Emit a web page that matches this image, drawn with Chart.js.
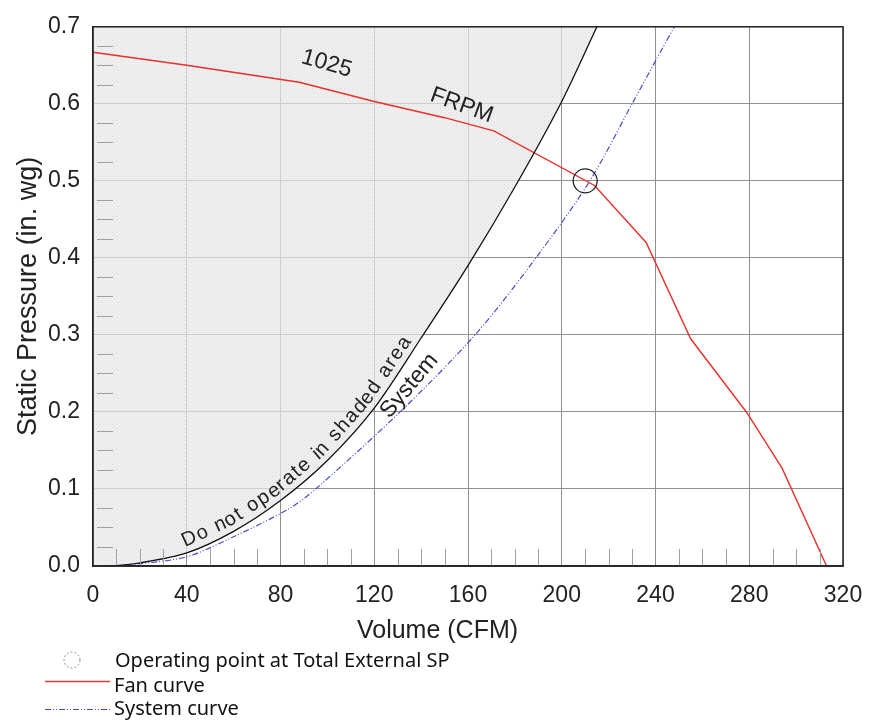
<!DOCTYPE html>
<html>
<head>
<meta charset="utf-8">
<title>Fan curve</title>
<script src="https://cdn.jsdelivr.net/npm/chart.js@4.4.1/dist/chart.umd.min.js"></script>
<style>
  html, body { margin: 0; padding: 0; background: #fff; }
  #wrap { width: 880px; height: 723px; }
</style>
</head>
<body>
<div id="wrap"><canvas id="js--chart"></canvas></div>
<script>
// values
const fanCfm = [0, 40, 88, 120, 150, 171, 214, 236, 255, 279, 294, 313];
const fanSp = [0.667, 0.650, 0.628, 0.603, 0.582, 0.565, 0.494, 0.420, 0.295, 0.199, 0.127, 0.0];

const limitCfm = [0, 8, 20, 40, 60, 80, 100, 120, 140, 160, 180, 200, 215];
const limitSp = [0, 0, 0.004, 0.017, 0.045, 0.085, 0.137, 0.205, 0.296, 0.39, 0.492, 0.603, 0.7];

const systemCfm = [7, 20, 40, 60, 84, 95, 131, 163, 189, 212, 230, 248];
const systemSp = [0, 0.003, 0.012, 0.038, 0.075, 0.1, 0.2, 0.3, 0.4, 0.5, 0.6, 0.7];

const opCfm = [210];
const opSp = [0.5];

const xTicks = [0, 40, 80, 120, 160, 200, 240, 280, 320];
const yTicks = [0, 0.1, 0.2, 0.3, 0.4, 0.5, 0.6, 0.7];

const legendLabels = ['Operating point at Total External SP', 'Fan curve', 'System curve'];
const curveNotes = ['1025', 'FRPM', 'System', 'Do not operate in shaded area'];

const FONT = '"Liberation Sans", Arial, sans-serif';

function toPoints(xs, ys) {
  return xs.map(function (x, i) { return { x: x, y: ys[i] }; });
}

// light crosshatch for the "do not operate" area
function hatch() {
  const c = document.createElement('canvas');
  c.width = 4; c.height = 4;
  const g = c.getContext('2d');
  g.fillStyle = 'rgba(232,232,232,0.7)';
  g.fillRect(0, 0, 4, 4);
  g.fillStyle = 'rgba(205,205,205,0.55)';
  g.fillRect(0, 0, 1, 1);
  g.fillRect(2, 2, 1, 1);
  return g.createPattern(c, 'repeat');
}

// write text along a polyline
function textOnPath(ctx, pts, text, startX, offset, spacing) {
  const segs = [];
  let total = 0, startS = 0;
  for (let i = 1; i < pts.length; i++) {
    const a = pts[i - 1], b = pts[i];
    const l = Math.hypot(b.x - a.x, b.y - a.y);
    if (l === 0) continue;
    if (a.x <= startX && b.x > startX) startS = total + l * (startX - a.x) / (b.x - a.x);
    segs.push({ a: a, b: b, l: l, s: total });
    total += l;
  }
  let s = startS;
  for (const ch of text) {
    const w = ctx.measureText(ch).width + spacing;
    const mid = s + w / 2;
    let seg = segs[segs.length - 1];
    for (const sg of segs) { if (mid <= sg.s + sg.l) { seg = sg; break; } }
    const t = (mid - seg.s) / seg.l;
    const dx = (seg.b.x - seg.a.x) / seg.l, dy = (seg.b.y - seg.a.y) / seg.l;
    const px = seg.a.x + (seg.b.x - seg.a.x) * t + dy * offset;
    const py = seg.a.y + (seg.b.y - seg.a.y) * t - dx * offset;
    ctx.save();
    ctx.translate(px, py);
    ctx.rotate(Math.atan2(dy, dx));
    ctx.fillText(ch, 0, 0);
    ctx.restore();
    s += w;
  }
}

const extras = {
  id: 'extras',
  afterDatasetsDraw(chart) {
    const ctx = chart.ctx;
    const xs = chart.scales.x, ys = chart.scales.y;
    const area = chart.chartArea;

    // small inside ticks
    ctx.save();
    ctx.strokeStyle = '#a0a0a0';
    ctx.lineWidth = 1;
    ctx.beginPath();
    for (let v = 10; v < 320; v += 10) {
      if (v % 40 === 0) continue;
      const px = Math.round(xs.getPixelForValue(v)) + 0.5;
      ctx.moveTo(px, area.bottom);
      ctx.lineTo(px, area.bottom - 17);
    }
    for (let k = 1; k < 28; k++) {
      if (k % 4 === 0) continue;
      const py = Math.round(ys.getPixelForValue(k * 0.025)) + 0.5;
      ctx.moveTo(area.left + 4, py);
      ctx.lineTo(area.left + 20, py);
    }
    ctx.stroke();

    // frame
    ctx.strokeStyle = '#222';
    ctx.lineWidth = 1.5;
    ctx.strokeRect(area.left, area.top, area.right - area.left, area.bottom - area.top);

    // notes on the curves
    ctx.fillStyle = '#222';
    ctx.textAlign = 'center';
    ctx.textBaseline = 'middle';
    ctx.font = '23px ' + FONT;
    const notes = [
      { t: curveNotes[0], x: 99.7, y: 0.652, r: 16 },
      { t: curveNotes[1], x: 157.3, y: 0.598, r: 20 },
      { t: curveNotes[2], x: 135, y: 0.234, r: -50 }
    ];
    notes.forEach(function (n) {
      ctx.save();
      ctx.translate(xs.getPixelForValue(n.x), ys.getPixelForValue(n.y));
      ctx.rotate(n.r * Math.PI / 180);
      ctx.fillText(n.t, 0, 0);
      ctx.restore();
    });

    ctx.font = '20px ' + FONT;
    ctx.textBaseline = 'alphabetic';
    const pts = chart.getDatasetMeta(1).data.map(function (p) { return { x: p.x, y: p.y }; });
    textOnPath(ctx, pts, curveNotes[3], xs.getPixelForValue(40), 6, 1.6);

    // x axis title, sits a bit left of centre in the original
    ctx.font = '25px ' + FONT;
    ctx.textBaseline = 'middle';
    ctx.fillText('Volume (CFM)', xs.getPixelForValue(147), 631);

    // legend
    ctx.textAlign = 'left';
    ctx.font = '20px "Noto Sans", sans-serif';
    ctx.fillStyle = '#111';
    ctx.strokeStyle = '#888';
    ctx.lineWidth = 1;
    ctx.setLineDash([2, 2]);
    ctx.beginPath();
    ctx.arc(72, 660, 8, 0, Math.PI * 2);
    ctx.stroke();
    ctx.setLineDash([]);
    ctx.fillText(legendLabels[0], 115, 661);

    ctx.strokeStyle = '#e23a2e';
    ctx.lineWidth = 1.3;
    ctx.beginPath();
    ctx.moveTo(45, 681.5); ctx.lineTo(110, 681.5);
    ctx.stroke();
    ctx.fillText(legendLabels[1], 114, 686);

    ctx.strokeStyle = '#4a4ad0';
    ctx.lineWidth = 1;
    ctx.setLineDash([6, 2, 1, 2, 1, 2]);
    ctx.beginPath();
    ctx.moveTo(45, 709.5); ctx.lineTo(110, 709.5);
    ctx.stroke();
    ctx.setLineDash([]);
    ctx.fillText(legendLabels[2], 114, 709);
    ctx.restore();
  }
};

const ctxEl = document.getElementById('js--chart');
const chart = new Chart(ctxEl, {
  type: 'scatter',
  data: {
    datasets: [
      {
        label: 'Operating point',
        data: toPoints(opCfm, opSp),
        pointRadius: 12,
        pointHoverRadius: 12,
        borderColor: '#222',
        borderWidth: 1.3,
        backgroundColor: 'rgba(0,0,0,0)'
      },
      {
        label: 'Limit',
        data: toPoints(limitCfm, limitSp),
        showLine: true,
        borderColor: '#111',
        borderWidth: 1.3,
        pointRadius: 0,
        tension: 0.3,
        fill: 'end',
        backgroundColor: hatch()
      },
      {
        label: 'Fan curve',
        data: toPoints(fanCfm, fanSp),
        showLine: true,
        borderColor: '#e8302a',
        borderWidth: 1.4,
        pointRadius: 0,
        tension: 0
      },
      {
        label: 'System curve',
        data: toPoints(systemCfm, systemSp),
        showLine: true,
        borderColor: '#4a4ad0',
        borderWidth: 1.2,
        borderDash: [6, 2, 1, 2, 1, 2],
        pointRadius: 0,
        tension: 0.3
      }
    ]
  },
  options: {
    responsive: true,
    maintainAspectRatio: false,
    animation: false,
    layout: { padding: { top: 18, right: 37, bottom: 0, left: 0 } },
    plugins: {
      legend: { display: false },
      tooltip: { enabled: false },
      filler: { drawTime: 'beforeDatasetsDraw' }
    },
    scales: {
      x: {
        type: 'linear',
        min: 0,
        max: 320,
        afterBuildTicks: function (scale) { scale.ticks = xTicks.map(function (v) { return { value: v }; }); },
        afterFit: function (scale) { scale.height = 157; },
        grid: { color: '#8f8f8f', lineWidth: 1, drawTicks: false },
        border: { color: '#222', width: 1.5 },
        ticks: {
          padding: 16,
          color: '#222',
          font: { family: FONT, size: 23 }
        }
      },
      y: {
        type: 'linear',
        min: 0,
        max: 0.7,
        afterBuildTicks: function (scale) { scale.ticks = yTicks.map(function (v) { return { value: v }; }); },
        afterFit: function (scale) { scale.width = 93; },
        grid: { color: '#8f8f8f', lineWidth: 1, drawTicks: false },
        border: { color: '#222', width: 1.5 },
        ticks: {
          padding: 13,
          color: '#222',
          font: { family: FONT, size: 23 },
          callback: function (v) { return Number(v).toFixed(1); }
        },
        title: {
          display: true,
          text: 'Static Pressure (in. wg)',
          color: '#222',
          padding: { top: 12, bottom: 0 },
          font: { family: FONT, size: 27 }
        }
      }
    }
  },
  plugins: [extras]
});
</script>
</body>
</html>
